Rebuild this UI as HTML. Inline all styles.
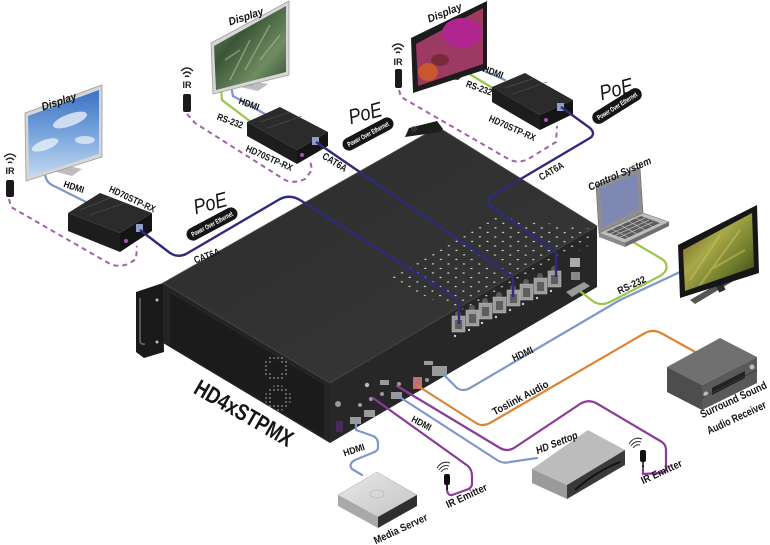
<!DOCTYPE html>
<html><head><meta charset="utf-8">
<style>
html,body{margin:0;padding:0;background:#fff}
svg{display:block}
text{font-family:"Liberation Sans Narrow","Liberation Sans",sans-serif;font-weight:bold;fill:#151515}
</style></head>
<body>
<svg width="770" height="545" viewBox="0 0 770 545" xmlns="http://www.w3.org/2000/svg">
<defs>
 <linearGradient id="sky" x1="0" y1="0" x2="0" y2="1"><stop offset="0" stop-color="#3a72c4"/><stop offset=".6" stop-color="#86aee0"/><stop offset="1" stop-color="#c4d9f0"/></linearGradient>
 <linearGradient id="leaf" x1="0" y1="0" x2="1" y2="1"><stop offset="0" stop-color="#7a9570"/><stop offset=".35" stop-color="#3a5536"/><stop offset=".7" stop-color="#6f8c62"/><stop offset="1" stop-color="#2f472c"/></linearGradient>
 <linearGradient id="tv" x1="0" y1="0" x2="1" y2="1"><stop offset="0" stop-color="#5a4a18"/><stop offset=".4" stop-color="#a9a848"/><stop offset=".7" stop-color="#6b7a2a"/><stop offset="1" stop-color="#3b3312"/></linearGradient>
 <linearGradient id="topg" x1="0" y1="0" x2="1" y2="1"><stop offset="0" stop-color="#2d2d2d"/><stop offset="1" stop-color="#373737"/></linearGradient>
 <linearGradient id="ms" x1="0" y1="0" x2="1" y2="1"><stop offset="0" stop-color="#e8e8e8"/><stop offset="1" stop-color="#c4c4c4"/></linearGradient>
 <pattern id="dots" width="1" height="1" patternUnits="userSpaceOnUse" patternTransform="matrix(7.6,4.55,7.8,-4.5,0,0)"><circle cx=".5" cy=".5" r=".1" fill="#e0e0e0"/></pattern>
 <pattern id="vdots" width="4" height="4" patternUnits="userSpaceOnUse"><circle cx="2" cy="2" r=".7" fill="#cfcfcf"/></pattern>
</defs>

<!-- ===== dashed IR lines ===== -->
<g fill="none" stroke="#a062a8" stroke-width="2" stroke-dasharray="5 4">
 <path d="M9,199 L11,207 L110,264 Q120,268 130,263 L136,259 L137,246"/>
 <path d="M187,114 L195,123 L285,180 Q295,184 305,179 L312,170 L310,160"/>
 <path d="M399,90 L401,97 L510,160 Q520,164 530,158 L556,142 L557,126"/>
</g>

<!-- ===== display cables ===== -->
<g fill="none" stroke-width="2.2" stroke-linecap="round">
 <path d="M45,174 Q46,182 52,185 L90,204" stroke="#7f97c9"/>
 <path d="M221,90 L222,100 L251,122" stroke="#9cc64a"/>
 <path d="M231,86 L233,96 L265,114" stroke="#7f97c9"/>
 <path d="M464,62 L466,72 L496,90" stroke="#9cc64a"/>
 <path d="M472,60 L473,66 L505,80" stroke="#7f97c9"/>
</g>

<!-- ===== Displays ===== -->
<polygon points="50,170 60,164 82,169 72,176" fill="#bdbdbd"/>
<rect x="58" y="155" width="9" height="13" fill="#a9a9a9"/>
<polygon points="25,113 102,85 102,157 26,181" fill="#d6d6d6" stroke="#9a9a9a" stroke-width=".8"/>
<polygon points="28,116 99,90 99,154 29,177" fill="url(#sky)"/>
<ellipse cx="70" cy="120" rx="18" ry="6" fill="#e6eef8" opacity=".8" transform="rotate(-20 70 120)"/>
<ellipse cx="45" cy="145" rx="14" ry="5" fill="#eef3fa" opacity=".75" transform="rotate(-20 45 145)"/>
<ellipse cx="85" cy="140" rx="10" ry="4" fill="#eef3fa" opacity=".7"/>
<polygon points="236,86 246,80 268,84 258,91" fill="#bdbdbd"/>
<rect x="244" y="74" width="9" height="12" fill="#a9a9a9"/>
<polygon points="211,43 289,1 289,75 213,94" fill="#d6d6d6" stroke="#9a9a9a" stroke-width=".8"/>
<polygon points="214,46 286,6 286,72 216,90" fill="url(#leaf)"/>
<path d="M230,80 L250,40 M245,70 L270,25 M260,60 L280,35 M225,60 L240,50" stroke="#a8c090" stroke-width="1.5" opacity=".6"/>
<polygon points="438,78 446,70 468,72 458,80" fill="#3a3a3a"/>
<polygon points="411,38 487,1 487,69 413,93" fill="#1c1c1c"/>
<polygon points="416,44 483,8 483,64 418,86" fill="#9d3a63"/>
<ellipse cx="462" cy="33" rx="20" ry="15" fill="#b0258f"/>
<ellipse cx="428" cy="72" rx="10" ry="9" fill="#c8562e"/>
<ellipse cx="440" cy="60" rx="9" ry="6" fill="#7a2b3a"/>

<!-- ===== IR icons ===== -->
<g fill="none" stroke="#222" stroke-width="1.3">
 <path d="M4,157 Q10,151 16,157 M6,160 Q10,156 14,160 M8,163 Q10,161 12,163"/>
 <path d="M181,71 Q187,65 193,71 M183,74 Q187,70 191,74 M185,77 Q187,75 189,77"/>
 <path d="M392,47 Q398,41 404,47 M394,50 Q398,46 402,50 M396,53 Q398,51 400,53"/>
</g>
<text x="10" y="174" font-size="9" text-anchor="middle">IR</text>
<text x="187" y="88" font-size="9" text-anchor="middle">IR</text>
<text x="398" y="65" font-size="9" text-anchor="middle">IR</text>
<rect x="6" y="180" width="8" height="17" rx="2" fill="#1a1a1a"/>
<rect x="183" y="94" width="8" height="18" rx="2" fill="#1a1a1a"/>
<rect x="395" y="69" width="7" height="19" rx="2" fill="#1a1a1a"/>

<!-- ===== Receiver boxes ===== -->
<g>
 <polygon points="68,213 100,193 152,213 120,233" fill="#2b2b2b"/>
 <polygon points="68,213 120,233 120,252 68,231" fill="#1d1d1d"/>
 <polygon points="120,233 152,213 152,231 120,252" fill="#141414"/>
 <path d="M80,210 L110,198 M90,215 L125,203" stroke="#555" stroke-width=".6"/>
 <rect x="136" y="224" width="7" height="8" fill="#8ea0c8"/>
 <circle cx="126" cy="241" r="2" fill="#a05aa8"/>
</g>
<g>
 <polygon points="247,122 280,107 328,132 297,150" fill="#2b2b2b"/>
 <polygon points="247,122 297,150 297,164 247,136" fill="#1d1d1d"/>
 <polygon points="297,150 328,132 328,146 297,164" fill="#141414"/>
 <path d="M260,122 L290,112 M268,128 L302,116" stroke="#555" stroke-width=".6"/>
 <rect x="312" y="137" width="7" height="8" fill="#8ea0c8"/>
 <circle cx="302" cy="155" r="2" fill="#a05aa8"/>
</g>
<g>
 <polygon points="492,87 525,73 573,100 540,115" fill="#2b2b2b"/>
 <polygon points="492,87 540,115 540,130 492,102" fill="#1d1d1d"/>
 <polygon points="540,115 573,100 573,114 540,130" fill="#141414"/>
 <path d="M505,88 L535,78 M513,94 L547,82" stroke="#555" stroke-width=".6"/>
 <rect x="557" y="103" width="7" height="8" fill="#8ea0c8"/>
 <circle cx="546" cy="120" r="2" fill="#a05aa8"/>
</g>

<!-- ===== Chassis ===== -->
<polygon points="136,292 163,283 164,352 144,358 136,352" fill="#1a1a1a"/>
<path d="M140,298 L140,340 Q140,345 145,344" fill="none" stroke="#6a6a6a" stroke-width="1.5"/>
<circle cx="157" cy="300" r="1.5" fill="#bbb"/><circle cx="157" cy="342" r="1.5" fill="#bbb"/>
<polygon points="163,283 330,383 330,443 163,343" fill="#242424"/>
<polygon points="170,293 324,385 324,437 170,346" fill="#1b1b1b"/>
<circle cx="276" cy="368" r="13" fill="url(#vdots)"/>
<circle cx="278" cy="398" r="13" fill="url(#vdots)"/>
<circle cx="276" cy="368" r="7" fill="#1b1b1b"/>
<circle cx="278" cy="398" r="7" fill="#1b1b1b"/>
<polygon points="330,383 597,226 597,287 330,443" fill="#272727"/>
<polygon points="163,283 438,127 597,226 330,383" fill="url(#topg)" stroke="#4a4a4a" stroke-width=".8"/>
<polygon points="389,278 497,217 593,229 590,245 457,312" fill="url(#dots)"/>
<!-- rear bracket -->
<polygon points="405,137 409,128 437,121 443,129 440,132" fill="#1c1c1c"/>
<circle cx="414" cy="129" r="2.5" fill="#2c2c2c" stroke="#474747" stroke-width=".6"/>

<!-- RJ45 ports -->
<g fill="#5a5a5a">
 <circle cx="458" cy="314" r="3"/><circle cx="472" cy="308" r="3"/><circle cx="485" cy="301" r="3"/><circle cx="499" cy="295" r="3"/>
 <circle cx="513" cy="288" r="3"/><circle cx="526" cy="282" r="3"/><circle cx="540" cy="276" r="3"/><circle cx="554" cy="269" r="3"/>
</g>
<g fill="#9c9c9c" stroke="#bdbdbd" stroke-width=".5">
 <rect x="452" y="316" width="13" height="16"/>
 <rect x="466" y="310" width="13" height="16"/>
 <rect x="479" y="303" width="13" height="16"/>
 <rect x="493" y="297" width="13" height="16"/>
 <rect x="507" y="290" width="13" height="16"/>
 <rect x="520" y="284" width="13" height="16"/>
 <rect x="534" y="278" width="13" height="16"/>
 <rect x="548" y="271" width="13" height="16"/>
</g>
<g fill="#5e5e5e">
 <rect x="455" y="320" width="7" height="9"/><rect x="469" y="314" width="7" height="9"/>
 <rect x="482" y="307" width="7" height="9"/><rect x="496" y="301" width="7" height="9"/>
 <rect x="510" y="294" width="7" height="9"/><rect x="523" y="288" width="7" height="9"/>
 <rect x="537" y="282" width="7" height="9"/><rect x="551" y="275" width="7" height="9"/>
</g>
<g fill="#d0d0d0">
 <circle cx="455" cy="336" r="1.2"/><circle cx="469" cy="330" r="1.2"/><circle cx="482" cy="323" r="1.2"/><circle cx="496" cy="317" r="1.2"/>
 <circle cx="510" cy="310" r="1.2"/><circle cx="523" cy="304" r="1.2"/><circle cx="537" cy="298" r="1.2"/><circle cx="551" cy="291" r="1.2"/>
</g>
<rect x="570" y="258" width="10" height="9" fill="#aaa"/>
<rect x="571" y="272" width="9" height="8" fill="#888"/>
<polygon points="566,292 584,282 590,286 572,297" fill="#9a9a9a"/>
<g fill="#9a9a9a">
 <circle cx="338" cy="404" r="3"/>
 <rect x="336" y="421" width="7" height="11" fill="#4a2a5a"/>
 <rect x="350" y="417" width="11" height="7"/>
 <rect x="364" y="410" width="11" height="7"/>
 <rect x="391" y="392" width="11" height="7"/>
 <rect x="380" y="380" width="9" height="5"/>
 <circle cx="371" cy="399" r="2"/><circle cx="382" cy="394" r="2"/>
 <circle cx="360" cy="405" r="2"/><circle cx="399" cy="384" r="2"/>
 <rect x="413" y="377" width="9" height="12" fill="#c07070"/>
 <circle cx="427" cy="380" r="2"/>
 <rect x="432" y="366" width="15" height="10"/>
 <rect x="424" y="361" width="9" height="4"/>
 <circle cx="367" cy="385" r="2.2" fill="#bbb"/>
</g>

<!-- ===== CAT6A cables ===== -->
<g fill="none" stroke="#2e2b7c" stroke-width="2.4" stroke-linejoin="round">
 <path d="M140,230 L170,253 Q178,258 186,254 L280,199 Q290,194 300,200 L456,298 Q459,300 459,304 L459,324"/>
 <path d="M316,142 L510,275 Q513,277 513,281 L513,297"/>
 <path d="M561,107 L590,128 Q596,134 590,138 L492,196 Q485,202 492,207 L553,250 Q556,252 556,256 L556,277"/>
</g>

<!-- ===== lower cables ===== -->
<g fill="none" stroke-width="2.2" stroke-linejoin="round" stroke-linecap="round">
 <path d="M633,242 L662,259 Q668,263 666,270 Q664,274 658,277 L610,302 Q602,306 594,302 L581,292" stroke="#9cc64a"/>
 <path d="M443,374 L457,388 Q463,392 470,388 L620,300 L680,272" stroke="#7f97c9"/>
 <path d="M418,386 L476,423 Q482,427 490,423 L645,333 Q653,329 661,333 L697,353" stroke="#dd8430"/>
 <path d="M397,386 L500,448 Q507,452 514,448 L580,404 Q588,399 596,403 L662,442 Q666,445 666,450 L666,468 Q666,473 660,473 L643,474 L643,466" stroke="#8a3d98"/>
 <path d="M398,396 L497,460 Q503,464 510,462 L537,458" stroke="#7f97c9"/>
 <path d="M373,398 L468,466 Q472,470 472,476 L472,484 Q472,488 466,490 L452,495 Q448,496 447,490 L447,486" stroke="#8a3d98"/>
 <path d="M356,422 L356,430 L373,436 Q378,438 378,444 L378,448 Q378,451 372,453 L355,460 Q348,464 352,469 L362,475" stroke="#7f97c9"/>
</g>

<!-- ===== Laptop ===== -->
<polygon points="596,185 640,167 643,213 599,233" fill="#8f8f8f" stroke="#666" stroke-width=".6"/>
<polygon points="600,189 637,173 639,209 602,227" fill="#7f87b3"/>
<polygon points="599,233 643,213 669,222 625,243" fill="#bdbdbd" stroke="#777" stroke-width=".6"/>
<polygon points="606,232 641,216 660,223 625,239" fill="#5c5c5c"/>
<path d="M610,234 L645,218 M614,236 L649,220 M618,238 L653,222 M612,229 L631,239 M620,225 L639,235 M628,221 L647,231 M636,218 L655,228" stroke="#bdbdbd" stroke-width=".7"/>
<polygon points="599,233 625,243 625,247 599,237" fill="#8a8a8a"/>
<polygon points="625,243 669,222 669,226 625,247" fill="#6e6e6e"/>

<!-- ===== TV ===== -->
<polygon points="690,300 750,265 755,268 695,304" fill="#555"/>
<rect x="716" y="278" width="7" height="14" fill="#2a2a2a" transform="rotate(-25 719 285)"/>
<polygon points="678,245 757,205 759,273 680,298" fill="#161616"/>
<polygon points="683,250 752,213 754,267 685,291" fill="url(#tv)"/>
<path d="M690,280 L720,235 M700,285 L740,230 M710,270 L745,250" stroke="#c8c860" stroke-width="2" opacity=".5"/>

<!-- ===== Surround receiver ===== -->
<polygon points="667,367 720,338 757,357 702,385" fill="#707070"/>
<polygon points="667,367 702,385 702,410 667,392" fill="#4d4d4d"/>
<polygon points="702,385 757,357 757,383 702,410" fill="#5a5a5a"/>
<polygon points="712,388 745,371 745,378 712,395" fill="#222"/>
<circle cx="706" cy="394" r="2.5" fill="#bbb"/><circle cx="752" cy="367" r="2.5" fill="#bbb"/>
<path d="M702,398 L757,370" stroke="#3a3a3a" stroke-width=".8"/>

<!-- ===== HD Settop ===== -->
<polygon points="532,469 588,430 625,450 567,485" fill="#bcbcbc"/>
<polygon points="532,469 567,485 567,499 532,483" fill="#9a9a9a"/>
<polygon points="567,485 625,450 625,465 567,499" fill="#3a3a3a"/>
<path d="M575,490 Q595,472 620,462" stroke="#111" stroke-width="2" fill="none"/>

<!-- ===== Media server ===== -->
<polygon points="338,495 377,472 417,495 378,517" fill="url(#ms)" stroke="#aaa" stroke-width=".5"/>
<polygon points="338,495 378,517 378,528 338,506" fill="#a9a9a9"/>
<polygon points="378,517 417,495 417,506 378,528" fill="#2e2e2e"/>
<ellipse cx="377" cy="494" rx="7" ry="4" fill="none" stroke="#bbb" stroke-width=".8"/>

<!-- ===== IR emitters ===== -->
<g fill="none" stroke="#333" stroke-width="1">
 <path d="M437,468 Q442,460 450,463 M439,470 Q443,464 449,466 M441,472 Q444,468 448,469"/>
 <path d="M629,444 Q634,436 642,439 M631,446 Q635,440 641,442 M633,448 Q636,444 640,445"/>
</g>
<rect x="444" y="474" width="6" height="11" rx="2" fill="#111"/>
<rect x="640" y="450" width="6" height="12" rx="2" fill="#111"/>
<path d="M447,485 L447,490 M643,462 L643,467" stroke="#111" stroke-width="1.5"/>

<!-- ===== PoE badges ===== -->
<g>
 <text transform="translate(212,210) rotate(-15)" font-size="21" text-anchor="middle" font-style="italic" textLength="34" lengthAdjust="spacingAndGlyphs" style="font-weight:normal">PoE</text>
 <g transform="translate(212,224) rotate(-28)"><rect x="-28" y="-6.5" width="56" height="13" rx="6.5" fill="#151515"/><text x="0" y="2.5" font-size="7" text-anchor="middle" style="fill:#fff" textLength="46" lengthAdjust="spacingAndGlyphs">Power Over Ethernet</text></g>
 <text transform="translate(367,120) rotate(-15)" font-size="21" text-anchor="middle" font-style="italic" textLength="34" lengthAdjust="spacingAndGlyphs" style="font-weight:normal">PoE</text>
 <g transform="translate(368,134) rotate(-28)"><rect x="-28" y="-6.5" width="56" height="13" rx="6.5" fill="#151515"/><text x="0" y="2.5" font-size="7" text-anchor="middle" style="fill:#fff" textLength="46" lengthAdjust="spacingAndGlyphs">Power Over Ethernet</text></g>
 <text transform="translate(618,96) rotate(-15)" font-size="21" text-anchor="middle" font-style="italic" textLength="34" lengthAdjust="spacingAndGlyphs" style="font-weight:normal">PoE</text>
 <g transform="translate(617,106) rotate(-32)"><rect x="-28" y="-6.5" width="56" height="13" rx="6.5" fill="#151515"/><text x="0" y="2.5" font-size="7" text-anchor="middle" style="fill:#fff" textLength="46" lengthAdjust="spacingAndGlyphs">Power Over Ethernet</text></g>
</g>

<!-- ===== labels ===== -->
<g text-anchor="middle">
 <text transform="translate(60,105) rotate(-18)" font-size="11" font-style="italic" textLength="36" lengthAdjust="spacingAndGlyphs">Display</text>
 <text transform="translate(247,20) rotate(-18)" font-size="11" font-style="italic" textLength="36" lengthAdjust="spacingAndGlyphs">Display</text>
 <text transform="translate(446,16) rotate(-22)" font-size="11" font-style="italic" textLength="36" lengthAdjust="spacingAndGlyphs">Display</text>
 <text transform="translate(73,190) rotate(18)" font-size="9.5" textLength="21" lengthAdjust="spacingAndGlyphs">HDMI</text>
 <text transform="translate(131,202) rotate(25)" font-size="9.5" textLength="50" lengthAdjust="spacingAndGlyphs">HD70STP-RX</text>
 <text transform="translate(248,107) rotate(20)" font-size="9.5" textLength="21" lengthAdjust="spacingAndGlyphs">HDMI</text>
 <text transform="translate(229,124) rotate(20)" font-size="9.5" textLength="27" lengthAdjust="spacingAndGlyphs">RS-232</text>
 <text transform="translate(268,161) rotate(24)" font-size="9.5" textLength="50" lengthAdjust="spacingAndGlyphs">HD70STP-RX</text>
 <text transform="translate(333,165) rotate(32)" font-size="10" textLength="27" lengthAdjust="spacingAndGlyphs">CAT6A</text>
 <text transform="translate(208,259) rotate(-20)" font-size="10" textLength="27" lengthAdjust="spacingAndGlyphs">CAT6A</text>
 <text transform="translate(492,75) rotate(20)" font-size="9.5" textLength="21" lengthAdjust="spacingAndGlyphs">HDMI</text>
 <text transform="translate(478,91) rotate(20)" font-size="9.5" textLength="27" lengthAdjust="spacingAndGlyphs">RS-232</text>
 <text transform="translate(511,131) rotate(24)" font-size="9.5" textLength="50" lengthAdjust="spacingAndGlyphs">HD70STP-RX</text>
 <text transform="translate(553,174) rotate(-30)" font-size="10" textLength="27" lengthAdjust="spacingAndGlyphs">CAT6A</text>
 <text transform="translate(621,177) rotate(-24)" font-size="10.5" font-style="italic" textLength="68" lengthAdjust="spacingAndGlyphs">Control System</text>
 <text transform="translate(633,288) rotate(-25)" font-size="10" textLength="30" lengthAdjust="spacingAndGlyphs">RS-232</text>
 <text transform="translate(524,357) rotate(-25)" font-size="10" textLength="22" lengthAdjust="spacingAndGlyphs">HDMI</text>
 <text transform="translate(522,401) rotate(-28)" font-size="10.5" textLength="62" lengthAdjust="spacingAndGlyphs">Toslink Audio</text>
 <text transform="translate(735,403) rotate(-25)" font-size="11" textLength="72" lengthAdjust="spacingAndGlyphs">Surround Sound</text>
 <text transform="translate(738,421) rotate(-25)" font-size="11" textLength="64" lengthAdjust="spacingAndGlyphs">Audio Receiver</text>
 <text transform="translate(558,446) rotate(-22)" font-size="10.5" font-style="italic" textLength="44" lengthAdjust="spacingAndGlyphs">HD Settop</text>
 <text transform="translate(663,475) rotate(-25)" font-size="10.5" textLength="44" lengthAdjust="spacingAndGlyphs">IR Emitter</text>
 <text transform="translate(420,426) rotate(28)" font-size="9.5" textLength="21" lengthAdjust="spacingAndGlyphs">HDMI</text>
 <text transform="translate(468,499) rotate(-25)" font-size="10.5" textLength="44" lengthAdjust="spacingAndGlyphs">IR Emitter</text>
 <text transform="translate(402,532) rotate(-25)" font-size="10.5" textLength="58" lengthAdjust="spacingAndGlyphs">Media Server</text>
 <text transform="translate(355,453) rotate(-18)" font-size="9.5" textLength="22" lengthAdjust="spacingAndGlyphs">HDMI</text>
 <text transform="translate(240,420) rotate(30)" font-size="23" textLength="110" lengthAdjust="spacingAndGlyphs">HD4xSTPMX</text>
</g>
</svg>
</body></html>
